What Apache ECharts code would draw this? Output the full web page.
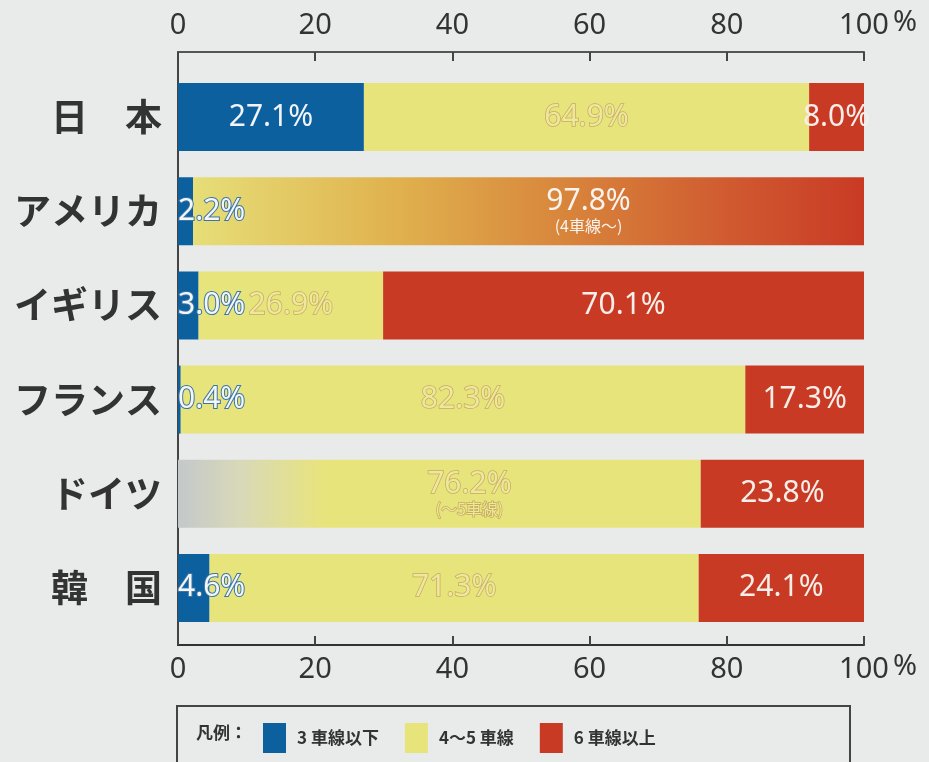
<!DOCTYPE html>
<html>
<head>
<meta charset="utf-8">
<script src="https://cdn.jsdelivr.net/npm/echarts@6/dist/echarts.min.js"></script>
<style>
  html, body { margin: 0; padding: 0; background: #e9ebeb; }
  #main { width: 929px; height: 762px; }
</style>
</head>
<body>
<div id="main"></div>
<script>
// 国名
var categories = ['日　本', 'アメリカ', 'イギリス', 'フランス', 'ドイツ', '韓　国'];
// 車線数別の割合 (%)
var lanes3 = [27.1, 2.2, 3.0, 0.4, 0, 4.6];
var lanes45 = [64.9, 97.8, 26.9, 82.3, 76.2, 71.3];
var lanes6 = [8.0, 0, 70.1, 17.3, 23.8, 24.1];
var subLabels45 = ['', '(4車線〜)', '', '', '(〜5車線)', ''];
var seriesNames = ['3 車線以下', '4～5 車線', '6 車線以上'];

var BLUE = '#0d609e';
var YELLOW = '#e8e47c';
var RED = '#c93a25';
var NUM_FONT = 'Noto Sans, sans-serif';

function pct(v) {
    return v.toFixed(1) + '%';
}

// 3車線以下
var blueData = lanes3.map(function(v) {
    var item = { value: v };
    if (v === 0) {
        item.label = { show: false };
    } else if (v < 10) {
        item.label = {
            position: 'insideLeft',
            distance: 0,
            color: '#f4f6f8',
            textBorderColor: '#3a74a8',
            textBorderWidth: 2
        };
    }
    return item;
});

// 4〜5車線
var yellowData = lanes45.map(function(v, i) {
    var item = { value: v };
    if (i === 1) {
        // アメリカ: 4車線以上をまとめた値
        item.itemStyle = {
            color: {
                type: 'linear', x: 0, y: 0, x2: 1, y2: 0,
                colorStops: [
                    { offset: 0, color: '#e6de78' },
                    { offset: 0.3, color: '#e0b24e' },
                    { offset: 0.55, color: '#d8863c' },
                    { offset: 0.8, color: '#d05a30' },
                    { offset: 1, color: '#c93a25' }
                ]
            }
        };
        item.label = { color: '#fbf3ee', textBorderWidth: 0, offset: [60, 0] };
    } else if (i === 4) {
        // ドイツ: 5車線以下をまとめた値
        item.itemStyle = {
            color: {
                type: 'linear', x: 0, y: 0, x2: 1, y2: 0,
                colorStops: [
                    { offset: 0, color: '#c4c8ca' },
                    { offset: 0.12, color: '#d8d9b8' },
                    { offset: 0.28, color: YELLOW },
                    { offset: 1, color: YELLOW }
                ]
            }
        };
        item.label = { offset: [30, 0] };
    }
    return item;
});

// 6車線以上
var redData = lanes6.map(function(v) {
    var item = { value: v };
    if (v === 0) {
        item.label = { show: false };
    }
    return item;
});

var myChart = echarts.init(document.getElementById('main'));

var axisLabelStyle = {
    fontFamily: NUM_FONT,
    fontSize: 29,
    color: '#333'
};

var option = {
    backgroundColor: '#e9ebeb',
    animation: false,
    grid: {
        left: 178,
        right: 65,
        top: 70,
        bottom: 127
    },
    xAxis: [
        {
            type: 'value',
            position: 'top',
            offset: 18,
            min: 0,
            max: 100,
            interval: 20,
            axisLine: { show: true, lineStyle: { color: '#555', width: 2 } },
            axisTick: { show: true, inside: true, length: 9, lineStyle: { color: '#444', width: 2 } },
            splitLine: { show: false },
            axisLabel: Object.assign({ margin: 12 }, axisLabelStyle)
        },
        {
            type: 'value',
            position: 'bottom',
            offset: 10,
            min: 0,
            max: 100,
            interval: 20,
            axisLine: { show: true, lineStyle: { color: '#333', width: 2 } },
            axisTick: { show: true, inside: true, length: 9, lineStyle: { color: '#444', width: 2 } },
            splitLine: { show: false },
            axisLabel: Object.assign({ margin: 10 }, axisLabelStyle)
        }
    ],
    yAxis: {
        type: 'category',
        inverse: true,
        data: categories,
        axisLine: { show: false },
        axisTick: { show: false },
        axisLabel: {
            margin: 16,
            fontFamily: 'Noto Sans CJK JP',
            fontWeight: 'bold',
            fontSize: 37,
            color: '#333'
        }
    },
    legend: {
        left: 258,
        top: 718,
        itemWidth: 23,
        itemHeight: 30,
        itemGap: 26,
        icon: 'rect',
        data: seriesNames,
        textStyle: {
            fontFamily: 'Noto Sans CJK JP',
            fontSize: 17,
            fontWeight: 'bold',
            color: '#333',
            padding: [0, 0, 0, 6]
        }
    },
    graphic: [
        {
            type: 'line',
            shape: { x1: 178, y1: 51, x2: 178, y2: 646 },
            style: { stroke: '#444', lineWidth: 2 }
        },
        {
            type: 'text',
            left: 893,
            top: 8,
            style: { text: '%', font: '29px Noto Sans, sans-serif', fill: '#333' }
        },
        {
            type: 'text',
            left: 893,
            top: 652,
            style: { text: '%', font: '29px Noto Sans, sans-serif', fill: '#333' }
        },
        {
            type: 'rect',
            shape: { x: 177, y: 706, width: 673, height: 70 },
            style: { fill: 'none', stroke: '#444', lineWidth: 2 }
        },
        {
            type: 'text',
            left: 196,
            top: 724,
            style: { text: '凡例：', font: 'bold 17px Noto Sans CJK JP', fill: '#333' }
        }
    ],
    series: [
        {
            name: seriesNames[0],
            type: 'bar',
            stack: 'total',
            barWidth: 68,
            itemStyle: { color: BLUE },
            label: {
                show: true,
                position: 'inside',
                fontFamily: NUM_FONT,
                fontSize: 30,
                color: '#f2f4f8',
                formatter: function(p) { return pct(p.value); }
            },
            data: blueData
        },
        {
            name: seriesNames[1],
            type: 'bar',
            stack: 'total',
            barWidth: 68,
            itemStyle: { color: YELLOW },
            label: {
                show: true,
                position: 'inside',
                fontFamily: NUM_FONT,
                fontSize: 30,
                lineHeight: 30,
                color: '#efe6a0',
                textBorderColor: '#c4ad58',
                textBorderWidth: 1.5,
                formatter: function(p) {
                    var sub = subLabels45[p.dataIndex];
                    return pct(p.value) + (sub ? '\n{s|' + sub + '}' : '');
                },
                rich: {
                    s: {
                        fontFamily: 'Noto Sans CJK JP',
                        fontSize: 16,
                        lineHeight: 19
                    }
                }
            },
            data: yellowData
        },
        {
            name: seriesNames[2],
            type: 'bar',
            stack: 'total',
            barWidth: 68,
            itemStyle: { color: RED },
            label: {
                show: true,
                position: 'inside',
                fontFamily: NUM_FONT,
                fontSize: 30,
                color: '#f6eee8',
                formatter: function(p) { return pct(p.value); }
            },
            data: redData
        }
    ]
};

myChart.setOption(option);
</script>
</body>
</html>
